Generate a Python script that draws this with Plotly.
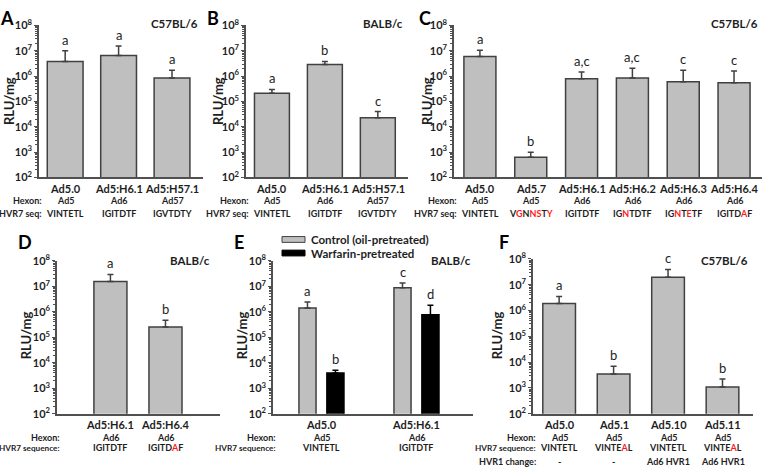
import math
import plotly.graph_objects as go

# ---------------- data ----------------
A_cats = ["Ad5.0", "Ad5:H6.1", "Ad5:H57.1"]
A_vals = [3.8e6, 6.5e6, 8.5e5]
A_upper = [1.0e7, 1.55e7, 1.7e6]
A_letters = ["a", "a", "a"]
A_hexon = ["Ad5", "Ad6", "Ad57"]
A_hvr7 = ["VINTETL", "IGITDTF", "IGVTDTY"]

B_cats = ["Ad5.0", "Ad5:H6.1", "Ad5:H57.1"]
B_vals = [2.1e5, 2.9e6, 2.3e4]
B_upper = [3.0e5, 3.8e6, 4.0e4]
B_letters = ["a", "b", "c"]
B_hexon = ["Ad5", "Ad6", "Ad57"]
B_hvr7 = ["VINTETL", "IGITDTF", "IGVTDTY"]

C_cats = ["Ad5.0", "Ad5.7", "Ad5:H6.1", "Ad5:H6.2", "Ad5:H6.3", "Ad5:H6.4"]
C_vals = [5.9e6, 6.3e2, 7.8e5, 8.5e5, 6.0e5, 5.5e5]
C_upper = [1.05e7, 1.0e3, 1.45e6, 2.05e6, 1.7e6, 1.6e6]
C_letters = ["a", "b", "a,c", "a,c", "c", "c"]
C_hexon = ["Ad5", "Ad5", "Ad6", "Ad6", "Ad6", "Ad6"]
C_hvr7 = ["VINTETL", "V[G]N[NS]T[Y]", "IGITDTF", "IG[N]TDTF", "IG[N]T[E]TF", "IGITD[A]F"]

D_cats = ["Ad5:H6.1", "Ad5:H6.4"]
D_vals = [1.55e7, 2.5e5]
D_upper = [2.9e7, 4.6e5]
D_letters = ["a", "b"]
D_hexon = ["Ad6", "Ad6"]
D_hvr7 = ["IGITDTF", "IGITD[A]F"]

E_cats = ["Ad5.0", "Ad5:H6.1"]
E_control = [1.4e6, 8.7e6]
E_control_upper = [2.4e6, 1.35e7]
E_control_letters = ["a", "c"]
E_warfarin = [4.0e3, 7.6e5]
E_warfarin_upper = [5.1e3, 1.8e6]
E_warfarin_letters = ["b", "d"]
E_hexon = ["Ad5", "Ad6"]
E_hvr7 = ["VINTETL", "IGITDTF"]
E_series = ["Control (oil-pretreated)", "Warfarin-pretreated"]

F_cats = ["Ad5.0", "Ad5.1", "Ad5.10", "Ad5.11"]
F_vals = [1.87e6, 3.5e3, 1.95e7, 1.1e3]
F_upper = [3.5e6, 6.9e3, 3.9e7, 2.2e3]
F_letters = ["a", "b", "c", "b"]
F_hexon = ["Ad5", "Ad5", "Ad5", "Ad5"]
F_hvr7 = ["VINTETL", "VINTE[A]L", "VINTETL", "VINTE[A]L"]
F_hvr1 = ["-", "-", "Ad6 HVR1", "Ad6 HVR1"]

Y_TICKS = [1e2, 1e3, 1e4, 1e5, 1e6, 1e7, 1e8]
Y_TICKTEXT = ["<b>10<sup>%d</sup></b>" % int(round(math.log10(v))) for v in Y_TICKS]

# ---------------- style ----------------
W, H = 763, 474
FONT = "Lato, 'Open Sans', sans-serif"
TXT = "#1e1e1e"
FILL = "#bfbfbf"
EDGE = "#404040"
AX = "#505050"
RED = "#ff1a1a"


def fx(px):
    return px / W


def fy(py):
    return 1 - py / H


def red(s):
    return s.replace("[", "<span style='color:%s'>" % RED).replace("]", "</span>")


fig = go.Figure()
annotations = []
shapes = []

panels = [
    dict(n=1, L="A", strain="C57BL/6", cats=A_cats, vals=A_vals, up=A_upper, let=A_letters,
         rows=[("Hexon:", A_hexon), ("HVR7 seq:", A_hvr7)], xd=(39, 203), yd=(17, 174),
         xr=(-0.49, 2.58), w=0.67, Lpos=(7, 9), spos=(200, 15), ytpos=(9, 95), rowy=[185, 198, 211]),
    dict(n=2, L="B", strain="BALB/c", cats=B_cats, vals=B_vals, up=B_upper, let=B_letters,
         rows=[("Hexon:", B_hexon), ("HVR7 seq:", B_hvr7)], xd=(246, 408), yd=(17, 174),
         xr=(-0.49, 2.57), w=0.66, Lpos=(213, 9), spos=(405, 15), ytpos=(218, 95), rowy=[185, 198, 211]),
    dict(n=3, L="C", strain="C57BL/6", cats=C_cats, vals=C_vals, up=C_upper, let=C_letters,
         rows=[("Hexon:", C_hexon), ("HVR7 seq:", C_hvr7)], xd=(454, 762), yd=(17, 174),
         xr=(-0.51, 5.55), w=0.63, Lpos=(425, 9), spos=(760, 15), ytpos=(427, 95), rowy=[185, 198, 211]),
    dict(n=4, L="D", strain="BALB/c", cats=D_cats, vals=D_vals, up=D_upper, let=D_letters,
         rows=[("Hexon:", D_hexon), ("HVR7 sequence:", D_hvr7)], xd=(57, 220), yd=(260, 418),
         xr=(-0.97, 1.99), w=0.6, Lpos=(25, 241), spos=(212, 260), ytpos=(26, 337), rowy=[429, 442, 453]),
    dict(n=5, L="E", strain="BALB/c", cats=E_cats, vals=None, up=None, let=None,
         rows=[("Hexon:", E_hexon), ("HVR7 sequence:", E_hvr7)], xd=(273, 473), yd=(260, 418),
         xr=(-0.51, 1.595), w=0.18, Lpos=(239, 241), spos=(473, 260), ytpos=(242, 337), rowy=[429, 442, 453]),
    dict(n=6, L="F", strain="C57BL/6", cats=F_cats, vals=F_vals, up=F_upper, let=F_letters,
         rows=[("Hexon:", F_hexon), ("HVR7 sequence:", F_hvr7), ("HVR1 change:", F_hvr1)],
         xd=(533, 753), yd=(258, 418),
         xr=(-0.48, 3.56), w=0.6, Lpos=(504, 241), spos=(750, 260), ytpos=(497, 337), rowy=[429, 442, 453, 467]),
]


def add_bar(n, cats, vals, up, width, color, edge, offset=None, name=None):
    kw = {}
    if offset is not None:
        kw["offset"] = offset
    fig.add_trace(go.Bar(
        x=cats, y=vals, width=width, name=name,
        marker=dict(color=color, line=dict(color=edge, width=1.5)),
        error_y=dict(type="data", symmetric=False,
                     array=[u - v for u, v in zip(up, vals)],
                     arrayminus=[0] * len(vals), color=edge, thickness=1.5, width=3),
        xaxis="x%d" % n, yaxis="y%d" % n, showlegend=False, **kw))


def add_letters(n, xs, up, letters):
    for x, u, t in zip(xs, up, letters):
        annotations.append(dict(x=x, y=math.log10(u), xref="x%d" % n, yref="y%d" % n,
                                text=t, showarrow=False, yanchor="bottom", yshift=1,
                                font=dict(family=FONT, size=13, color=TXT)))


lay = {}
for p in panels:
    n = p["n"]
    if n != 5:
        add_bar(n, p["cats"], p["vals"], p["up"], p["w"], FILL, EDGE)
        add_letters(n, list(range(len(p["cats"]))), p["up"], p["let"])
    else:
        off = 0.147
        add_bar(n, E_cats, E_control, E_control_upper, p["w"], FILL, EDGE,
                offset=-off - p["w"] / 2, name=E_series[0])
        add_bar(n, E_cats, E_warfarin, E_warfarin_upper, p["w"], "#000000", "#000000",
                offset=off - p["w"] / 2, name=E_series[1])
        add_letters(n, [i - off for i in range(len(E_cats))], E_control_upper, E_control_letters)
        add_letters(n, [i + off for i in range(len(E_cats))], E_warfarin_upper, E_warfarin_letters)

    sfx = "" if n == 1 else str(n)
    lay["xaxis" + sfx] = dict(
        domain=[fx(p["xd"][0]), fx(p["xd"][1])], anchor="y%d" % n, type="category",
        range=list(p["xr"]), showline=True, linecolor=AX, linewidth=1.5,
        ticks="", showticklabels=False, showgrid=False, zeroline=False, fixedrange=True)
    lay["yaxis" + sfx] = dict(
        domain=[fy(p["yd"][1]), fy(p["yd"][0])], anchor="x%d" % n, type="log",
        range=[2, 8], tickvals=Y_TICKS, ticktext=Y_TICKTEXT, ticks="outside", ticklen=3,
        tickwidth=1, tickcolor=AX, showline=True, linecolor=AX, linewidth=1.5,
        showgrid=False, zeroline=False, fixedrange=True, ticklabelstandoff=0,
        minor=dict(ticks="outside", ticklen=2, tickwidth=0.8, tickcolor=AX, dtick="D1", showgrid=False),
        tickfont=dict(family=FONT, size=11, color=TXT))

    annotations.append(dict(x=fx(p["Lpos"][0]), y=fy(p["Lpos"][1]), xref="paper", yref="paper",
                            xanchor="center", yanchor="middle", text="<b>%s</b>" % p["L"], showarrow=False,
                            font=dict(family=FONT, size=18, color="#000")))
    annotations.append(dict(x=fx(p["spos"][0]), y=fy(p["spos"][1]), xref="paper", yref="paper",
                            xanchor="right", yanchor="middle", text="<b>%s</b>" % p["strain"],
                            showarrow=False, font=dict(family=FONT, size=11.5, color=TXT)))
    annotations.append(dict(x=fx(p["ytpos"][0]), y=fy(p["ytpos"][1]), xref="paper", yref="paper",
                            xanchor="center", yanchor="middle", text="<b>RLU/mg</b>", textangle=-90,
                            showarrow=False, font=dict(family=FONT, size=13, color=TXT)))
    for i, c in enumerate(p["cats"]):
        annotations.append(dict(x=i, y=fy(p["rowy"][0]), xref="x%d" % n, yref="paper",
                                xanchor="center", yanchor="middle", text="<b>%s</b>" % c,
                                showarrow=False, font=dict(family=FONT, size=11, color=TXT)))
    for r, (head, vals) in enumerate(p["rows"]):
        yy = fy(p["rowy"][r + 1])
        hsize = 8.2 if "sequence" in head else 9
        annotations.append(dict(x=fx(p["xd"][0] + 5), y=yy, xref="paper", yref="paper",
                                xanchor="right", yanchor="middle", text="<b>%s</b>" % head,
                                showarrow=False, font=dict(family=FONT, size=hsize, color=TXT)))
        for i, v in enumerate(vals):
            annotations.append(dict(x=i, y=yy, xref="x%d" % n, yref="paper",
                                    xanchor="center", yanchor="middle", text="<b>%s</b>" % red(v),
                                    showarrow=False, font=dict(family=FONT, size=9, color=TXT)))

# legend for panel E
for k, (lab, col) in enumerate(zip(E_series, [FILL, "#000000"])):
    yc = 238 + 14 * k
    shapes.append(dict(type="rect", xref="paper", yref="paper",
                       x0=fx(282), x1=fx(305), y0=fy(yc + 3), y1=fy(yc - 3),
                       fillcolor=col, line=dict(color=EDGE if k == 0 else "#000", width=1)))
    annotations.append(dict(x=fx(309), y=fy(yc), xref="paper", yref="paper", xanchor="left",
                            yanchor="middle", text="<b>%s</b>" % lab, showarrow=False,
                            font=dict(family=FONT, size=11.5, color=TXT)))

fig.update_layout(
    width=W, height=H, margin=dict(l=0, r=0, t=0, b=0),
    paper_bgcolor="white", plot_bgcolor="rgba(0,0,0,0)",
    barmode="overlay", showlegend=False,
    annotations=annotations, shapes=shapes,
    font=dict(family=FONT, color=TXT),
    **lay)

fig.write_html("out.html", config={"displayModeBar": False},
               post_script="document.body.style.margin='0';document.body.style.padding='0';")
